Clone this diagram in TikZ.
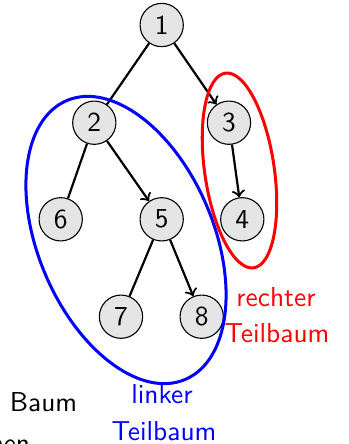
\documentclass[tikz,border=0pt]{standalone}
\usepackage{tikz}
\begin{document}
\begin{tikzpicture}[x=0.365pt,y=-0.365pt,
  font=\sffamily\fontsize{10}{13}\selectfont,
  vertex/.style={circle,draw=black,thin,fill=black!10,minimum size=15.8pt,inner sep=0pt},
  edge/.style={thick,black},
  arc/.style={thick,black,->},
  subtree/.style={line width=1.1pt},
  lbl/.style={inner sep=0pt,anchor=base}
]
\useasboundingbox (0,0) rectangle (349,444);
\node[vertex] (n1) at (161.7,25) {1};
\node[vertex] (n2) at (94.3,122.7) {2};
\node[vertex] (n3) at (229,122.7) {3};
\node[vertex] (n6) at (60.7,219.3) {6};
\node[vertex] (n5) at (161.7,219.3) {5};
\node[vertex] (n4) at (242.3,219.3) {4};
\node[vertex] (n7) at (121,316.7) {7};
\node[vertex] (n8) at (201.7,316.7) {8};
\draw[edge] (n1) -- (n2);
\draw[arc] (n1) -- (n3);
\draw[edge] (n2) -- (n6);
\draw[arc] (n2) -- (n5);
\draw[arc] (n3) -- (n4);
\draw[edge] (n5) -- (n7);
\draw[arc] (n5) -- (n8);
\coordinate (bc) at (126,240);
\coordinate (rc) at (239.5,170.5);
\draw[subtree,blue,rotate around={23:(bc)}] (bc) ellipse [x radius=32pt,y radius=55.3pt];
\draw[subtree,red,rotate around={8.3:(rc)}] (rc) ellipse [x radius=12.7pt,y radius=35.9pt];
\node[lbl,red] (r1) at (276,306.7) {rechter};
\node[lbl,red] (r2) at (277,342.7) {Teilbaum};
\node[lbl,blue] (l1) at (162,403) {linker};
\node[lbl,blue] (l2) at (164,440) {Teilbaum};
\node[lbl,anchor=base west] (b1) at (9.3,411.7) {Baum};
\node[lbl,anchor=base west] (b2) at (-18.5,452) {men};
\end{tikzpicture}
\end{document}
